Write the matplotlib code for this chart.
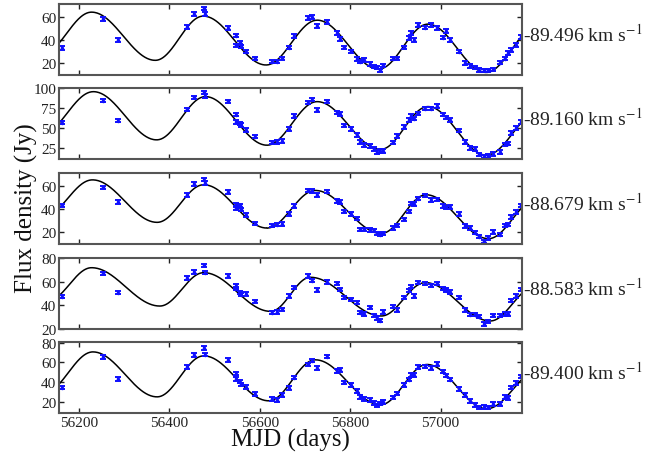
import numpy as np
import matplotlib
matplotlib.use("Agg")
import matplotlib.pyplot as plt

# -----------------------------
# Data
# -----------------------------
mjd = [56162, 56254, 56286, 56439, 56455, 56477, 56478, 56530, 56547, 56548,
       56556, 56559, 56570, 56589, 56626, 56638, 56650, 56665, 56676, 56706,
       56716, 56727, 56749, 56771, 56777, 56787, 56802, 56816, 56822, 56830,
       56844, 56853, 56859, 56866, 56872, 56894, 56903, 56918, 56929, 56935,
       56942, 56949, 56965, 56979, 56993, 57005, 57012, 57020, 57040, 57054,
       57066, 57075, 57085, 57096, 57104, 57116, 57131, 57143, 57148, 57155,
       57167, 57177]

flux1 = [33.0, 58.3, 40.0, 51.4, 62.3, 67.2, 62.6, 50.2, 43.9, 35.5,
         38.1, 34.7, 30.1, 24.3, 21.4, 21.4, 24.3, 33.5, 43.6, 58.8,
         60.0, 51.9, 55.7, 46.2, 41.0, 33.8, 30.4, 23.7, 21.4, 22.9,
         19.4, 17.1, 16.5, 14.0, 18.3, 24.0, 24.3, 33.8, 41.6, 45.9,
         40.1, 53.1, 50.8, 52.8, 50.2, 42.2, 47.6, 39.9, 30.1, 20.3,
         17.7, 16.5, 14.5, 14.0, 14.0, 14.8, 20.6, 24.0, 28.9, 31.5,
         35.8, 42.7]

flux2 = [56.7, 84.2, 59.2, 73.3, 88.3, 94.6, 90.0, 83.3, 66.7, 57.5,
         55.8, 53.8, 47.1, 39.2, 31.7, 32.1, 33.3, 48.3, 65.0, 81.7,
         85.4, 72.5, 83.3, 69.2, 67.5, 53.3, 48.3, 40.8, 32.5, 28.3,
         27.1, 23.3, 20.0, 20.8, 20.8, 31.7, 40.0, 50.8, 60.0, 65.0,
         61.7, 68.3, 74.2, 74.2, 77.5, 66.7, 63.3, 60.0, 46.7, 32.5,
         25.0, 23.3, 16.7, 14.2, 15.0, 17.1, 20.0, 29.2, 30.4, 43.3,
         50.0, 57.5]

flux3 = [43.1, 58.6, 46.0, 52.3, 61.4, 65.4, 62.6, 54.6, 43.7, 40.9,
         43.1, 39.7, 35.1, 27.7, 26.0, 26.6, 27.1, 35.7, 42.6, 56.0,
         55.7, 52.3, 55.1, 47.1, 46.0, 38.0, 35.7, 31.7, 22.6, 22.6,
         22.0, 21.4, 19.1, 18.0, 19.1, 23.7, 26.0, 31.1, 38.0, 44.9,
         44.3, 48.9, 51.7, 47.7, 48.3, 42.6, 41.4, 42.0, 35.7, 25.4,
         23.7, 19.7, 16.3, 12.3, 15.1, 20.3, 18.0, 26.0, 26.6, 33.4,
         37.4, 43.1]

flux4 = [47.3, 67.0, 50.7, 63.1, 68.2, 73.8, 67.6, 64.8, 56.3, 54.1,
         51.0, 49.0, 49.6, 43.4, 33.8, 34.4, 36.6, 47.9, 55.2, 64.8,
         60.8, 53.0, 59.7, 58.6, 53.5, 46.8, 45.1, 42.3, 33.8, 32.7,
         38.3, 31.5, 29.3, 27.0, 34.4, 38.9, 36.0, 46.8, 52.4, 55.8,
         47.9, 59.2, 58.6, 56.9, 58.6, 54.1, 53.0, 51.3, 46.8, 36.1,
         32.1, 32.1, 30.4, 24.2, 26.5, 31.5, 31.5, 32.7, 32.7, 43.9,
         47.9, 53.5]

flux5 = [34.7, 65.3, 43.3, 55.3, 67.3, 74.7, 68.0, 62.7, 48.7, 43.3,
         40.7, 38.0, 35.3, 28.0, 23.3, 22.0, 27.3, 34.0, 44.7, 58.0,
         62.0, 54.7, 66.0, 51.3, 52.7, 40.0, 37.3, 31.3, 25.3, 23.3,
         22.0, 19.3, 16.7, 18.7, 20.0, 24.7, 28.7, 37.3, 42.7, 47.3,
         47.3, 55.3, 56.0, 54.7, 58.7, 50.7, 46.7, 42.7, 33.3, 27.3,
         21.3, 17.3, 14.7, 15.3, 14.7, 18.0, 18.0, 25.3, 24.0, 34.7,
         39.3, 46.0]

flux_err = [1.5, 2.2, 1.5, 1.5, 1.8]

# model curve turning points (maxima / minima) for each channel
model_t1 = [56118, 56228, 56369, 56475, 56614, 56727, 56863, 56972, 57101, 57207]
model_v1 = [27.6, 64.0, 22.6, 60.6, 18.6, 57.1, 15.1, 53.7, 12.2, 48.6]
model_t2 = [56116, 56232, 56372, 56480, 56616, 56727, 56867, 56972, 57101, 57217]
model_v2 = [41.5, 95.4, 35.0, 89.2, 28.3, 82.9, 23.0, 76.7, 15.8, 70.0]
model_t3 = [56120, 56230, 56373, 56476, 56616, 56723, 56869, 56968, 57106, 57211]
model_v3 = [33.0, 65.1, 28.6, 60.9, 23.7, 56.0, 19.1, 52.3, 14.6, 48.0]
model_t4 = [56130, 56228, 56379, 56476, 56624, 56712, 56869, 56966, 57110, 57206]
model_v4 = [43.5, 71.8, 39.4, 67.6, 34.9, 63.7, 31.0, 59.2, 26.8, 55.0]
model_t5 = [56123, 56231, 56373, 56476, 56620, 56723, 56867, 56970, 57102, 57221]
model_v5 = [29.3, 70.7, 25.3, 66.7, 21.3, 62.7, 17.3, 58.0, 13.3, 54.0]

velocities = ["-89.496", "-89.160", "-88.679", "-88.583", "-89.400"]
ylims = [(10, 71), (11, 100), (10, 71), (20, 80), (9, 80.7)]
yticks = [[20, 40, 60], [25, 50, 75, 100], [20, 40, 60],
          [20, 40, 60, 80], [20, 40, 60, 80]]
xticks = [56200, 56400, 56600, 56800, 57000]

# -----------------------------
# Helpers
# -----------------------------
def smooth_model(tp, vp):
    """half-cosine segments between successive turning points"""
    ts, vs = [], []
    for i in range(len(tp) - 1):
        tt = np.linspace(tp[i], tp[i + 1], 80)
        ph = (1 - np.cos(np.pi * (tt - tp[i]) / (tp[i + 1] - tp[i]))) / 2
        ts.append(tt)
        vs.append(vp[i] + (vp[i + 1] - vp[i]) * ph)
    return np.concatenate(ts), np.concatenate(vs)

# -----------------------------
# Plot
# -----------------------------
plt.rcParams["font.family"] = ["Liberation Serif", "DejaVu Serif"]
plt.rcParams["mathtext.fontset"] = "stix"

fig = plt.figure(figsize=(6.58, 4.56), dpi=100)

fluxes = [flux1, flux2, flux3, flux4, flux5]
models = [(model_t1, model_v1), (model_t2, model_v2), (model_t3, model_v3),
          (model_t4, model_v4), (model_t5, model_v5)]
tops = [5, 89, 174, 259, 343]
left, width = 59 / 658, 463 / 658

for k in range(5):
    h = 71 / 456
    bottom = 1 - tops[k] / 456 - h
    ax = fig.add_axes([left, bottom, width, h])

    mt, mv = smooth_model(*models[k])
    ax.plot(mt, mv, color="black", lw=1.1)
    ax.errorbar(mjd, fluxes[k], yerr=flux_err[k], fmt="o", ms=1.5,
                color="#1010ff", ecolor="#1010ff", elinewidth=1.6,
                capsize=2.0, capthick=1.4)

    ax.set_xlim(56156, 57180)
    ax.set_ylim(*ylims[k])
    ax.set_xticks(xticks)
    ax.set_yticks(yticks[k])
    ax.tick_params(direction="in", top=True, right=True, length=3.5,
                   width=1.0, labelsize=11, colors="#222222", pad=2)
    if k < 4:
        ax.set_xticklabels([])
    for sp in ax.spines.values():
        sp.set_color("#555555")
        sp.set_linewidth(1.5)

    ax.text(1.003, 0.59, velocities[k] + r" km s$^{-1}$",
            transform=ax.transAxes, ha="left", va="center",
            fontsize=14, color="#222222")

fig.text(0.04, 0.544, "Flux density (Jy)", rotation=90, ha="center",
         va="center", fontsize=18, color="#111111")
fig.text(0.4415, 0.033, "MJD (days)", ha="center", va="center",
         fontsize=18, color="#111111")

fig.savefig("out.png", dpi=100)
